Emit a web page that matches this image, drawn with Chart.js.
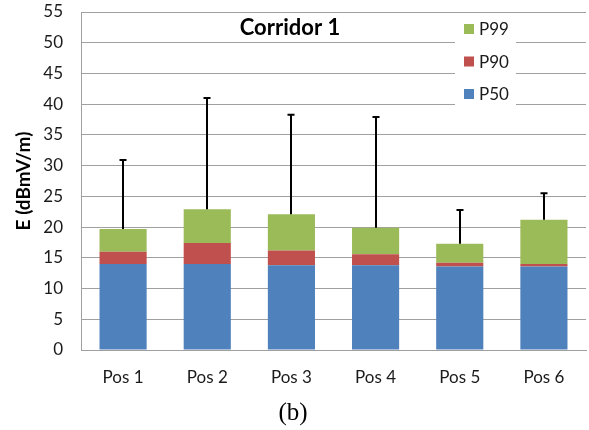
<!DOCTYPE html>
<html>
<head>
<meta charset="utf-8">
<script src="https://cdn.jsdelivr.net/npm/chart.js@4/dist/chart.umd.min.js"></script>
<style>
  html, body { margin: 0; padding: 0; background: #fff; }
  #wrap { width: 589px; height: 430px; position: relative; }
</style>
</head>
<body>
<div id="wrap"><canvas id="c" width="589" height="430"></canvas></div>
<script>
// Field strength percentiles per measurement position (dBmV/m)
const positions = ['Pos 1', 'Pos 2', 'Pos 3', 'Pos 4', 'Pos 5', 'Pos 6'];
const p50 = [14.0, 14.0, 13.8, 13.8, 13.6, 13.6];
const p90 = [16.0, 17.4, 16.2, 15.6, 14.2, 14.0];
const p99 = [19.7, 22.9, 22.1, 19.9, 17.3, 21.2];
const maxE = [30.9, 41.0, 38.3, 37.9, 22.8, 25.5];
const yTicks = [0, 5, 10, 15, 20, 25, 30, 35, 40, 45, 50, 55];

const BLUE = '#4f81bd', RED = '#c0504d', GREEN = '#9bbb59';
const GRID = '#a0a0a0';
const FONT = 'Lato, "Open Sans", sans-serif';

// Each band floats from the previous percentile up to its own level
const band = (lo, hi) => positions.map((_, i) => [lo ? lo[i] : 0, hi[i]]);

const overlay = {
  id: 'overlay',
  beforeDatasetsDraw(chart) {
    // white panel behind the legend, cutting the gridlines
    const ctx = chart.ctx, a = chart.chartArea;
    ctx.save();
    ctx.fillStyle = '#fff';
    ctx.fillRect(455, a.top + 2, 61, 98);
    ctx.restore();
  },
  afterDatasetsDraw(chart) {
    const ctx = chart.ctx, a = chart.chartArea, y = chart.scales.y;
    const meta = chart.getDatasetMeta(2);
    ctx.save();
    // upward error bars from the P99 level to the maximum
    ctx.strokeStyle = '#000';
    ctx.lineWidth = 2;
    meta.data.forEach((bar, i) => {
      const x = Math.round(bar.x);
      const y0 = y.getPixelForValue(p99[i]);
      const y1 = y.getPixelForValue(maxE[i]);
      ctx.beginPath();
      ctx.moveTo(x, y0);
      ctx.lineTo(x, y1);
      ctx.moveTo(x - 3.5, y1);
      ctx.lineTo(x + 3.5, y1);
      ctx.stroke();
    });

    // chart heading
    ctx.fillStyle = '#000';
    ctx.font = 'bold 22px ' + FONT;
    ctx.textAlign = 'center';
    ctx.textBaseline = 'middle';
    ctx.fillText('Corridor 1', 290, a.top + 16);

    // legend, top series first
    const items = [['P99', GREEN], ['P90', RED], ['P50', BLUE]];
    ctx.font = '17px ' + FONT;
    ctx.textAlign = 'left';
    items.forEach(([label, color], k) => {
      const cy = a.top + 17 + k * 32.5;
      ctx.fillStyle = color;
      ctx.fillRect(464, cy - 5, 10, 10);
      ctx.fillStyle = '#1a1a1a';
      ctx.fillText(label, 479, cy + 1);
    });
    ctx.restore();
  }
};

new Chart(document.getElementById('c'), {
  type: 'bar',
  data: {
    labels: positions,
    datasets: [
      { label: 'P50', data: band(null, p50), backgroundColor: BLUE },
      { label: 'P90', data: band(p50, p90), backgroundColor: RED },
      { label: 'P99', data: band(p90, p99), backgroundColor: GREEN }
    ]
  },
  options: {
    responsive: false,
    animation: false,
    devicePixelRatio: 1,
    layout: { padding: { top: 12, right: 3, left: 0, bottom: 0 } },
    datasets: { bar: { categoryPercentage: 1, barPercentage: 0.56, borderSkipped: false } },
    plugins: {
      legend: { display: false },
      tooltip: { enabled: false },
      title: {
        display: true,
        position: 'bottom',
        text: '(b)',
        color: '#000',
        font: { family: '"Liberation Serif", "DejaVu Serif", serif', size: 25, weight: 'normal' },
        padding: { top: 3, bottom: 2 }
      }
    },
    scales: {
      x: {
        stacked: true,
        grid: { display: false, drawTicks: false },
        border: { display: true, color: GRID, width: 1 },
        ticks: { color: '#1a1a1a', font: { family: FONT, size: 17 }, padding: 17 },
        afterFit(s) { s.height = 45; }
      },
      y: {
        min: 0,
        max: 55,
        afterBuildTicks(s) { s.ticks = yTicks.map(v => ({ value: v })); },
        grid: { color: GRID, lineWidth: 1, drawTicks: false },
        border: { display: true, color: GRID, width: 1 },
        ticks: { color: '#1a1a1a', font: { family: FONT, size: 17 }, padding: 18 },
        title: {
          display: true,
          text: 'E (dBmV/m)',
          color: '#000',
          font: { family: FONT, size: 19, weight: 'bold' },
          padding: { top: 12, bottom: 0 }
        },
        afterFit(s) {
          s.width = 81;
          s.paddingTop = 10;
          s.paddingBottom = 0;
        }
      }
    }
  },
  plugins: [overlay]
});
</script>
</body>
</html>
